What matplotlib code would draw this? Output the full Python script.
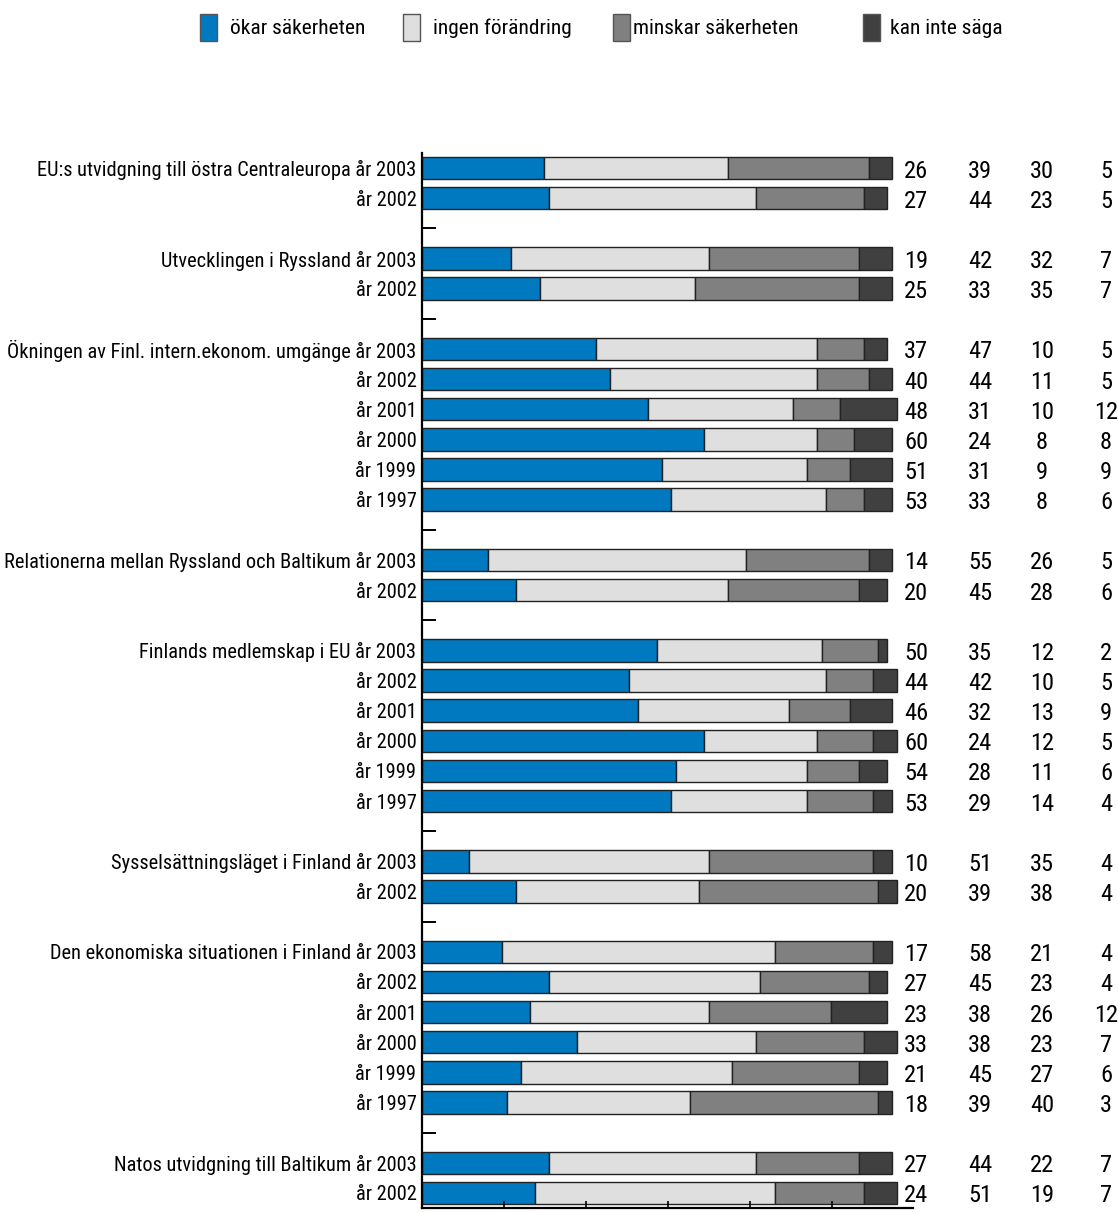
import matplotlib
matplotlib.use("Agg")
import matplotlib.pyplot as plt
from matplotlib import font_manager
from matplotlib.font_manager import FontProperties
from matplotlib.ft2font import FT2Font
from matplotlib.patches import Rectangle
import matplotlib.transforms as mtransforms

# ---------------- data ----------------
topics = [
    "EU:s utvidgning till östra Centraleuropa",
    "Utvecklingen i Ryssland",
    "Ökningen av Finl. intern.ekonom. umgänge",
    "Relationerna mellan Ryssland och Baltikum",
    "Finlands medlemskap i EU",
    "Sysselsättningsläget i Finland",
    "Den ekonomiska situationen i Finland",
    "Natos utvidgning till Baltikum",
]
topic_years = [
    ["2003", "2002"],
    ["2003", "2002"],
    ["2003", "2002", "2001", "2000", "1999", "1997"],
    ["2003", "2002"],
    ["2003", "2002", "2001", "2000", "1999", "1997"],
    ["2003", "2002"],
    ["2003", "2002", "2001", "2000", "1999", "1997"],
    ["2003", "2002"],
]
okar = [26, 27, 19, 25, 37, 40, 48, 60, 51, 53, 14, 20, 50, 44, 46, 60, 54, 53,
        10, 20, 17, 27, 23, 33, 21, 18, 27, 24]
ingen = [39, 44, 42, 33, 47, 44, 31, 24, 31, 33, 55, 45, 35, 42, 32, 24, 28, 29,
         51, 39, 58, 45, 38, 38, 45, 39, 44, 51]
minskar = [30, 23, 32, 35, 10, 11, 10, 8, 9, 8, 26, 28, 12, 10, 13, 12, 11, 14,
           35, 38, 21, 23, 26, 23, 27, 40, 22, 19]
kan = [5, 5, 7, 7, 5, 5, 12, 8, 9, 6, 5, 6, 2, 5, 9, 5, 6, 4,
       4, 4, 4, 4, 12, 7, 6, 3, 7, 7]
series_names = ["ökar säkerheten", "ingen förändring", "minskar säkerheten", "kan inte säga"]
colors = ["#0079C1", "#DFDFDF", "#808080", "#404040"]

# ---------------- font: narrowest of a whitelist of plain sans families ----------------
LONG = "Relationerna mellan Ryssland och Baltikum år 2003"
OK_NAMES = {"liberation sans narrow", "arial narrow", "roboto condensed",
            "open sans condensed", "noto sans condensed", "noto sans extracondensed",
            "noto sans semicondensed", "dejavu sans", "liberation sans", "noto sans",
            "roboto", "open sans", "lato", "inter", "arimo", "arial"}
best, best_ratio = None, 1e9
for fe in font_manager.fontManager.ttflist:
    try:
        if fe.style != "normal" or fe.weight not in (400, "normal", "regular"):
            continue
        if fe.name.lower() not in OK_NAMES:
            continue
        low = fe.fname.lower()
        if "mono" in low or "italic" in low or "oblique" in low:
            continue
        if not low.endswith((".ttf", ".otf")):
            continue
        ft = FT2Font(fe.fname)
        if any(ft.get_char_index(ord(c)) == 0 for c in "åäöÖ"):
            continue
        ft.set_size(100, 72)
        ft.set_text(LONG)
        w, _ = ft.get_width_height()
        ft.set_text("2003")
        _, h = ft.get_width_height()
        if h <= 0:
            continue
        r = w / h
        if r < best_ratio:
            best_ratio, best = r, fe.fname
    except Exception:
        continue

FP = FontProperties(fname=best) if best else FontProperties(family="DejaVu Sans", stretch="condensed")

W, H = 1118, 1212
fig = plt.figure(figsize=(W / 100, H / 100), dpi=100)
renderer = fig.canvas.get_renderer()


def fit_size(text, target_px):
    t = fig.text(0, 0, text, fontproperties=FP, fontsize=20)
    w = t.get_window_extent(renderer).width
    t.remove()
    return 20 * target_px / w


FS_LABEL = fit_size(LONG, 410)
FS_NUM = min(fit_size("26", 24), 21)
FS_LEG = fit_size("ökar säkerheten", 135)

ax = fig.add_axes([422 / W, 1 - 1208 / H, (913 - 422) / W, (1208 - 153) / H])

# ---------------- layout of rows ----------------
ypos, ylabels, gaps = [], [], []
slot = 0
for gi, (t, yrs) in enumerate(zip(topics, topic_years)):
    for yi, yr in enumerate(yrs):
        ypos.append(slot)
        ylabels.append(f"{t} år {yr}" if yi == 0 else f"år {yr}")
        slot += 1
    if gi < len(topics) - 1:
        gaps.append(slot)
        slot += 1

series = [okar, ingen, minskar, kan]
left = [0] * len(ypos)
for vals, c in zip(series, colors):
    ax.barh(ypos, vals, left=left, height=0.74, color=c,
            edgecolor="#222222", linewidth=1.0)
    left = [l + v for l, v in zip(left, vals)]

ax.set_xlim(0, 491 / 470 * 100)
ax.set_ylim(slot - 0.5, -0.5)

ax.set_yticks(ypos)
ax.set_yticklabels(ylabels)
for lab in ax.get_yticklabels():
    lab.set_fontproperties(FP)
    lab.set_fontsize(FS_LABEL)
ax.tick_params(axis="y", which="major", length=0, pad=4)
ax.set_yticks(gaps, minor=True)
ax.tick_params(axis="y", which="minor", length=10, width=1.4, direction="in")

ax.set_xticks([17.45 * k for k in range(1, 6)])
ax.set_xticklabels([])
ax.tick_params(axis="x", length=5, width=1.2, direction="in")

for s in ["top", "right"]:
    ax.spines[s].set_visible(False)
ax.spines["left"].set_linewidth(1.6)
ax.spines["bottom"].set_linewidth(1.6)

# ---------------- value columns ----------------
trans = mtransforms.blended_transform_factory(fig.transFigure, ax.transData)
trans = trans + mtransforms.ScaledTranslation(0, -3 / 100, fig.dpi_scale_trans)
col_x = [916, 980, 1042, 1106]
for vals, cx in zip(series, col_x):
    for y, v in zip(ypos, vals):
        ax.text(cx / W, y, str(v), transform=trans, ha="center", va="center",
                fontproperties=FP, fontsize=FS_NUM, clip_on=False)

# ---------------- legend ----------------
leg_box_x = [200, 403, 613, 863]
leg_txt_x = [230, 433, 633, 890]
for bx, tx, c, name in zip(leg_box_x, leg_txt_x, colors, series_names):
    fig.add_artist(Rectangle((bx / W, 1 - 41 / H), 17 / W, 27 / H,
                             transform=fig.transFigure, facecolor=c,
                             edgecolor="#555555", linewidth=1.0))
    fig.text(tx / W, 1 - 28 / H, name, ha="left", va="center",
             fontproperties=FP, fontsize=FS_LEG)

fig.savefig("out.png", dpi=100)
